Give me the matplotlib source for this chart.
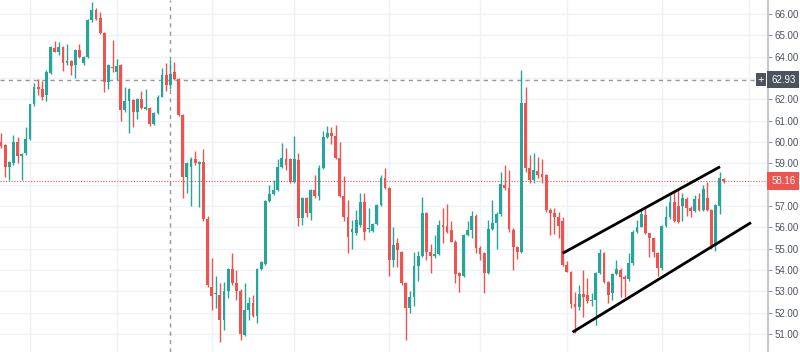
import numpy as np
import matplotlib
matplotlib.use("Agg")
import matplotlib.pyplot as plt
from matplotlib.transforms import blended_transform_factory

plt.rcParams["font.family"] = ["Liberation Sans", "DejaVu Sans"]

# candles: open, high, low, close
opens = [60.0, 59.86, 58.84, 59.0, 60.0, 59.34, 59.47, 60.12, 61.77, 62.6,
         62.5, 62.2, 63.25, 64.4, 64.2, 64.47, 63.7, 63.78, 63.6, 64.31,
         63.7, 64.0, 65.72, 66.19, 65.8, 65.1, 62.83, 63.53, 63.3, 63.6,
         61.5, 61.9, 61.95, 61.4, 62.0, 61.55, 61.6, 60.85, 61.34, 62.13,
         63.14, 62.67, 63.3, 62.95, 61.27, 58.38, 58.84, 59.19, 58.97, 59.08,
         56.4, 53.22, 52.85, 52.83, 51.63, 53.03, 54.05, 53.38, 53.0, 50.96,
         52.13, 52.44, 51.85, 54.05, 54.3, 57.25, 57.55, 57.75, 58.84, 59.2,
         59.19, 58.14, 59.16, 56.42, 57.36, 56.66, 57.75, 57.47, 58.8, 60.25,
         60.4, 60.3, 59.23, 57.47, 56.5, 55.8, 55.72, 56.1, 57.2, 55.9,
         55.83, 56.16, 57.05, 58.3, 57.85, 54.47, 55.28, 54.86, 53.38, 52.2,
         52.75, 54.2, 54.66, 56.66, 54.86, 54.63, 54.75, 56.11, 56.06, 55.88,
         55.33, 53.85, 53.72, 55.64, 55.85, 56.55, 55.02, 54.78, 53.85, 55.9,
         56.19, 56.61, 58.0, 57.83, 55.88, 55.06, 54.86, 61.84, 58.8, 58.2,
         58.65, 58.5, 58.45, 56.8, 56.66, 56.5, 56.31, 54.24, 53.92, 52.41,
         52.25, 52.88, 52.83, 52.52, 52.6, 53.85, 54.78, 53.45, 52.9, 53.81,
         54.0, 53.69, 53.56, 54.31, 55.8, 56.03, 56.58, 55.72, 55.49, 54.81,
         54.08, 56.06, 56.47, 57.2, 57.0, 57.0, 57.32, 56.9, 56.74, 57.32,
         56.81, 57.36, 56.81, 55.1, 57.0, 58.27]
highs = [60.4, 59.9, 59.1, 60.33, 60.25, 59.5, 60.72, 61.8, 62.75, 62.95,
         62.85, 63.4, 64.5, 64.75, 64.7, 64.5, 64.6, 63.85, 64.35, 64.6,
         64.05, 65.75, 66.55, 66.3, 66.1, 65.15, 63.65, 64.8, 63.9, 63.65,
         62.6, 62.55, 62.0, 62.05, 62.4, 62.5, 61.65, 61.4, 62.2, 63.46,
         63.7, 63.86, 63.75, 63.0, 61.3, 59.05, 59.3, 59.6, 59.1, 59.65,
         56.55, 54.55, 53.7, 53.4, 53.45, 54.1, 54.8, 54.0, 53.1, 53.4,
         52.75, 52.83, 54.1, 54.4, 57.3, 57.99, 58.22, 59.2, 59.94, 59.7,
         59.25, 60.28, 59.47, 57.4, 57.4, 57.8, 58.45, 58.9, 60.5, 60.75,
         60.72, 60.8, 60.0, 58.4, 57.3, 56.35, 56.8, 57.6, 57.6, 56.9,
         56.2, 57.1, 58.45, 58.77, 57.9, 56.0, 55.5, 54.9, 53.45, 53.0,
         54.86, 54.9, 57.4, 56.7, 55.2, 55.64, 56.35, 56.9, 57.1, 56.3,
         55.4, 53.9, 55.7, 56.3, 56.75, 56.6, 55.1, 54.85, 56.35, 57.3,
         56.7, 58.6, 58.9, 58.7, 55.95, 55.1, 63.38, 62.56, 59.39, 59.5,
         59.3, 59.2, 58.5, 56.9, 56.9, 56.7, 56.5, 54.4, 53.95, 52.98,
         53.3, 54.0, 53.6, 52.9, 53.9, 55.0, 54.85, 53.5, 53.85, 54.47,
         54.1, 53.75, 54.78, 55.85, 56.35, 56.8, 56.9, 55.75, 55.5, 54.85,
         56.1, 57.0, 57.5, 57.7, 57.8, 57.6, 57.4, 57.0, 57.5, 57.6,
         58.0, 58.14, 56.85, 57.1, 58.6, 58.3]
lows = [59.7, 58.35, 58.22, 58.9, 59.0, 58.22, 59.4, 60.1, 61.7, 62.2,
        61.95, 61.9, 63.2, 64.2, 64.1, 63.34, 63.6, 63.15, 63.0, 63.95,
        63.6, 63.95, 65.65, 65.7, 65.05, 62.36, 62.5, 63.3, 62.9, 61.0,
        61.4, 60.4, 60.7, 61.1, 61.55, 61.5, 60.75, 60.8, 61.3, 62.1,
        62.4, 62.47, 62.9, 61.2, 57.37, 57.6, 57.0, 58.9, 56.97, 56.3,
        53.2, 52.1, 52.2, 50.6, 51.2, 52.7, 53.3, 52.6, 50.72, 50.9,
        51.66, 51.8, 51.5, 54.0, 54.25, 57.2, 57.5, 57.7, 58.8, 58.7,
        58.07, 58.1, 56.06, 56.1, 56.5, 56.35, 57.36, 57.28, 58.75, 60.2,
        59.9, 59.2, 57.4, 56.3, 54.8, 55.0, 55.65, 56.0, 55.4, 55.8,
        55.8, 56.1, 57.0, 57.8, 53.7, 54.16, 54.16, 53.3, 50.7, 51.97,
        52.3, 53.5, 54.6, 54.47, 53.85, 54.55, 54.7, 55.25, 55.75, 55.3,
        53.38, 52.97, 53.65, 55.6, 55.5, 54.8, 54.47, 52.9, 53.8, 55.85,
        55.0, 56.55, 57.75, 55.8, 54.0, 54.5, 54.8, 58.6, 58.1, 58.1,
        58.3, 58.1, 56.7, 55.65, 55.7, 55.5, 54.2, 53.9, 52.2, 51.03,
        52.1, 51.8, 52.45, 52.3, 51.4, 53.8, 53.4, 52.44, 52.6, 53.75,
        52.75, 52.75, 53.5, 54.25, 55.75, 56.0, 55.7, 54.6, 54.6, 53.7,
        54.0, 56.0, 56.4, 56.25, 56.2, 56.3, 56.55, 56.5, 56.7, 56.75,
        56.75, 56.75, 55.0, 54.9, 56.6, 58.1]
closes = [59.8, 58.84, 59.05, 60.0, 59.34, 59.45, 60.12, 61.77, 62.6, 62.48,
          62.13, 63.3, 64.47, 64.23, 64.47, 63.72, 63.78, 63.56, 64.31, 64.0,
          64.0, 65.7, 66.19, 65.75, 65.09, 62.83, 63.6, 63.45, 63.55, 61.5,
          61.9, 62.5, 61.4, 62.0, 61.6, 61.66, 60.84, 61.34, 62.13, 63.14,
          62.67, 63.2, 62.95, 61.27, 58.38, 59.0, 59.19, 59.0, 59.05, 56.38,
          53.3, 52.8, 52.9, 51.63, 53.03, 54.05, 53.38, 52.99, 51.0, 52.13,
          52.44, 51.85, 54.05, 54.35, 57.25, 57.56, 57.75, 58.84, 59.23, 58.9,
          58.14, 59.19, 56.42, 57.36, 56.66, 57.75, 57.47, 58.8, 60.25, 60.4,
          60.28, 59.23, 57.47, 56.5, 55.56, 55.9, 56.35, 57.2, 55.8, 55.95,
          56.16, 57.05, 58.3, 57.85, 54.47, 55.17, 54.94, 53.38, 52.2, 52.75,
          54.2, 54.66, 56.69, 54.86, 54.63, 54.75, 56.11, 56.03, 55.8, 55.33,
          53.8, 53.72, 55.64, 55.88, 56.55, 55.02, 54.75, 53.85, 55.9, 56.19,
          56.61, 58.03, 57.83, 55.9, 55.06, 54.86, 61.84, 58.8, 58.2, 58.7,
          58.45, 58.35, 56.8, 56.66, 56.5, 56.04, 54.24, 53.92, 52.41, 52.25,
          52.88, 52.75, 52.52, 52.6, 53.85, 54.81, 53.45, 52.83, 53.81, 54.06,
          53.69, 53.56, 54.31, 55.8, 56.03, 56.63, 55.72, 55.49, 54.86, 54.08,
          56.06, 56.47, 57.2, 56.31, 56.27, 57.36, 56.9, 56.74, 57.32, 56.81,
          57.78, 56.81, 55.1, 57.05, 58.3, 58.16]

price_ticks = list(range(51, 67))
crosshair_price = 62.93
last_price = 58.16
crosshair_bar = 41
month_bars = [7, 28, 51, 71, 94, 116, 137, 160, 181]
# channel drawn on the chart: (bar, price) end points
upper_line = ([136.0, 174.1], [54.78, 58.84])
lower_line = ([138.4, 181.6], [51.08, 56.22])

green = "#26a69a"
red = "#ef5350"

o = np.array(opens)
h = np.array(highs)
l = np.array(lows)
c = np.array(closes)
x = np.arange(len(o))
col = np.where(c >= o, green, red)

fig = plt.figure(figsize=(8, 3.52), dpi=100)
ax = fig.add_axes([0, 0, 768 / 800, 1])

for p in price_ticks:
    ax.axhline(p, color="#eef1f6", lw=1, zorder=0)
for b in month_bars:
    ax.axvline(b, color="#eef1f6", lw=1, zorder=0)

ax.vlines(x, l, h, colors=col, lw=1, zorder=2)
body = np.maximum(np.abs(c - o), 0.05)
ax.bar(x, body, bottom=np.minimum(o, c), width=0.68, color=col, zorder=3)

ax.axhline(crosshair_price, color="#9598a1", lw=1, ls=(0, (3, 3)), zorder=1)
ax.axvline(crosshair_bar, color="#9598a1", lw=1, ls=(0, (3, 3)), zorder=1)
ax.axhline(last_price, color=red, lw=0.8, ls=(0, (1, 1.5)), zorder=1)

ax.plot(*upper_line, color="black", lw=2, solid_capstyle="butt", zorder=4)
ax.plot(*lower_line, color="black", lw=2, solid_capstyle="butt", zorder=4)

ax.set_xlim(-1 / 4.13, -1 / 4.13 + 768 / 4.13)
ax.set_ylim(50.15, 66.66)

for s in ["top", "left", "bottom"]:
    ax.spines[s].set_visible(False)
ax.spines["right"].set_color("#c5c7cc")
ax.spines["right"].set_linewidth(1.5)
ax.set_xticks([])
ax.yaxis.tick_right()
ax.set_yticks(price_ticks)
ax.set_yticklabels(["%.2f" % p for p in price_ticks])
ax.tick_params(axis="y", length=3, width=0.8, color="#9598a1", labelsize=7,
               labelcolor="#4c525e", pad=1.5)

tr = blended_transform_factory(ax.transAxes, ax.transData)
ax.text(1.004, crosshair_price, "62.93", transform=tr, fontsize=7, color="white",
        va="center", ha="left", clip_on=False, zorder=6,
        bbox=dict(boxstyle="square,pad=0.4", fc="#4c525e", ec="none"))
ax.text(0.9905, crosshair_price, "+", transform=tr, fontsize=8, color="white",
        va="center", ha="center", clip_on=False, zorder=6,
        bbox=dict(boxstyle="square,pad=0.15", fc="#4c525e", ec="none"))
ax.text(1.004, last_price, "58.16", transform=tr, fontsize=7, color="white",
        va="center", ha="left", clip_on=False, zorder=6,
        bbox=dict(boxstyle="square,pad=0.4", fc=red, ec="none"))

fig.savefig("out.png", dpi=100)
